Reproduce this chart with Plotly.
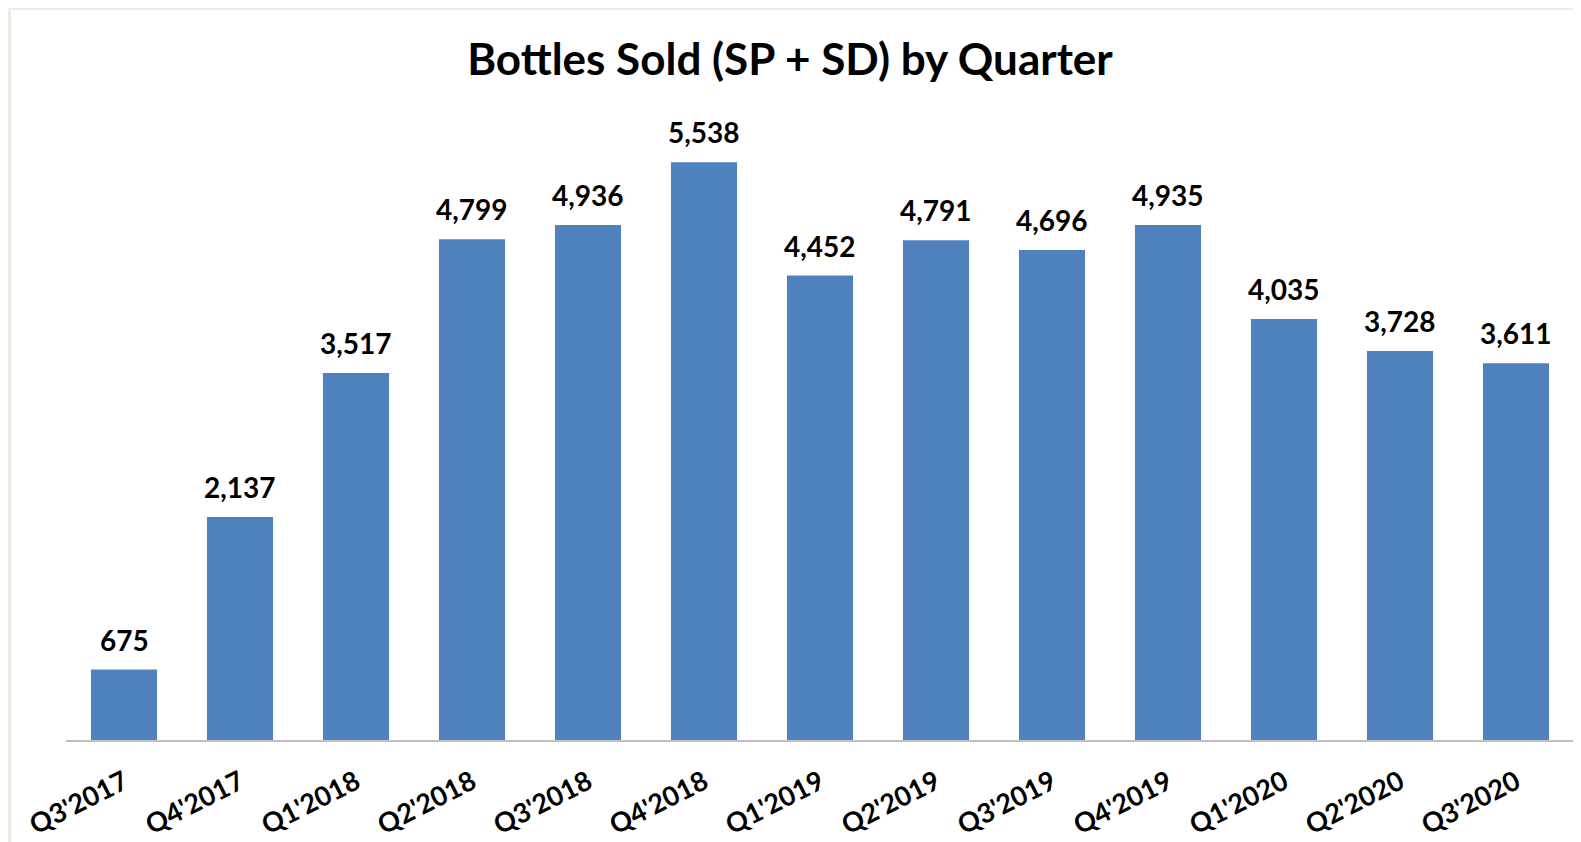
import plotly.graph_objects as go

quarters = ["Q3'2017", "Q4'2017", "Q1'2018", "Q2'2018", "Q3'2018", "Q4'2018", "Q1'2019",
            "Q2'2019", "Q3'2019", "Q4'2019", "Q1'2020", "Q2'2020", "Q3'2020"]
bottles = [675, 2137, 3517, 4799, 4936, 5538, 4452, 4791, 4696, 4935, 4035, 3728, 3611]
labels = [f"{v:,}" for v in bottles]

FONT = "Lato, Calibri, Arial, sans-serif"

# page body has an 8px default margin; figure sized to fit the 1581x842 window
W, H = 1573, 834
L, R, T, B = 58, 7, 106, 102
plot_w = W - L - R
plot_h = H - T - B

fig = go.Figure(go.Bar(
    x=quarters, y=bottles,
    marker=dict(color="#4F81BD", line=dict(width=0)),
    cliponaxis=False,
))

for q, v, t in zip(quarters, bottles, labels):
    fig.add_annotation(x=q, y=v, text=t, showarrow=False, yanchor="bottom", yshift=11,
                       font=dict(family=FONT, size=28, color="black", weight="bold"))

fig.update_layout(
    width=W, height=H,
    margin=dict(l=L, r=R, t=T, b=B, autoexpand=False),
    paper_bgcolor="white", plot_bgcolor="white",
    bargap=0.43,
    showlegend=False,
    title=dict(text="Bottles Sold (SP + SD) by Quarter", x=(782 - L) / plot_w, xref="paper",
               xanchor="center", y=1 - 52 / H, yanchor="middle",
               font=dict(family=FONT, size=44, color="black", weight="bold")),
    xaxis=dict(showgrid=False, showline=True, linecolor="#BFBFBF", linewidth=2,
               ticks="", tickangle=-27, automargin=False, ticklabelstandoff=14,
               tickfont=dict(family=FONT, size=27, color="black", weight="bold")),
    yaxis=dict(range=[0, 6000], visible=False, automargin=False),
    shapes=[dict(type="rect", xref="paper", yref="paper",
                 x0=(1.5 - L) / plot_w, x1=(W + 20 - L) / plot_w,
                 y0=-(B + 20) / plot_h, y1=(plot_h + T - 0.5) / plot_h,
                 line=dict(color="#EEECE1", width=3), fillcolor="rgba(0,0,0,0)", layer="below")],
)

fig.write_html("out.html")
